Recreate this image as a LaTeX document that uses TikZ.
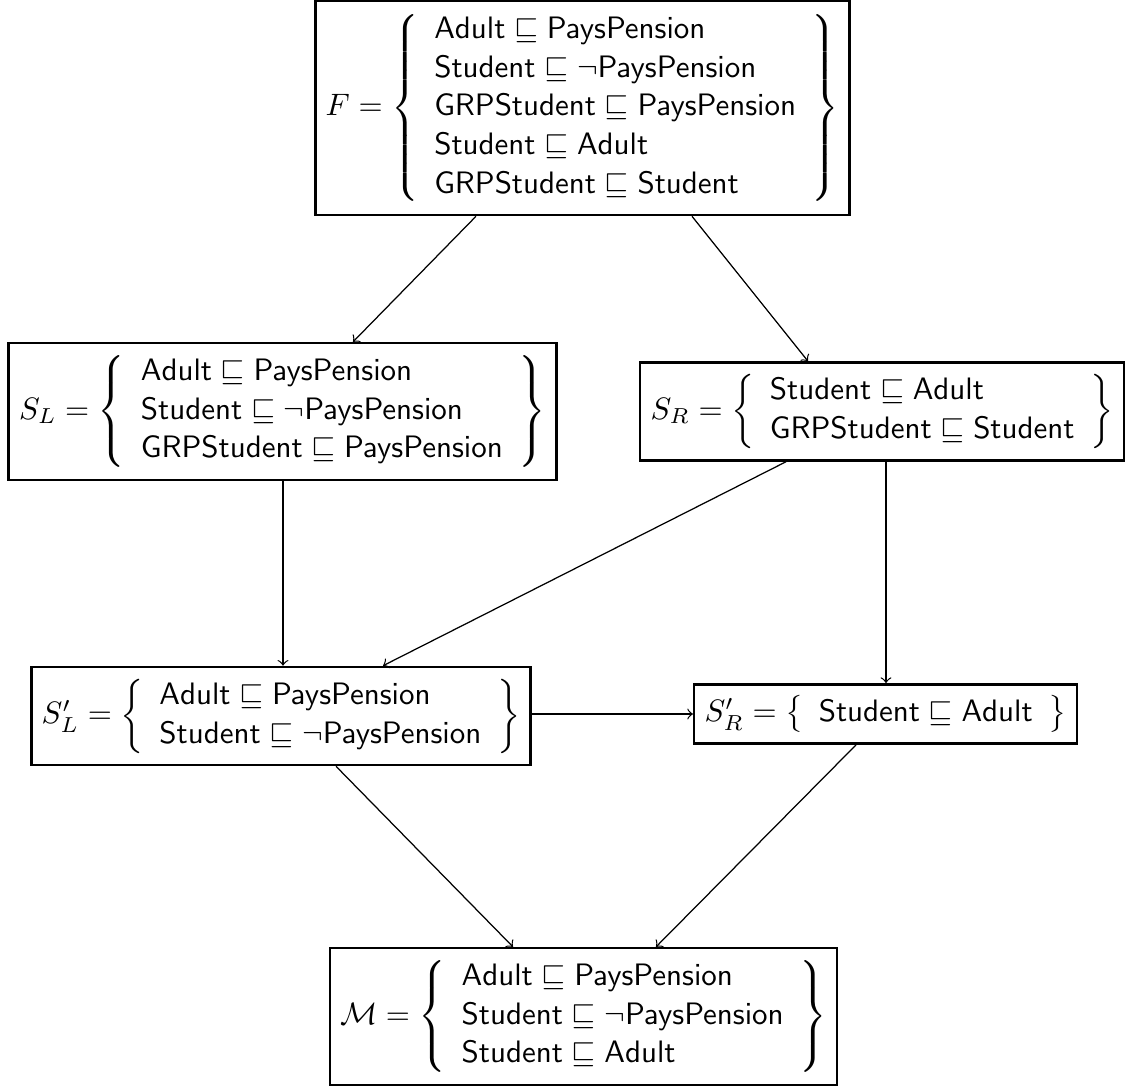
\documentclass[tikz,border=0pt]{standalone}
\usepackage{amssymb}
\renewcommand{\arraystretch}{1.04}
\begin{document}
\begin{tikzpicture}[x=0.32258pt,y=-0.32258pt,
  setbox/.style={draw,line width=0.8pt,fill=white},
  link/.style={->,line width=0.4pt}]
\useasboundingbox (0,0) rectangle (1129,1088);

\node[setbox] (F) at (582.5,108) {$F = \left\{\begin{array}{l}
  \mathsf{Adult}\sqsubseteq\mathsf{PaysPension}\\
  \mathsf{Student}\sqsubseteq\neg\mathsf{PaysPension}\\
  \mathsf{GRPStudent}\sqsubseteq\mathsf{PaysPension}\\
  \mathsf{Student}\sqsubseteq\mathsf{Adult}\\
  \mathsf{GRPStudent}\sqsubseteq\mathsf{Student}
  \end{array}\right\}$};

\node[setbox] (SL) at (282.5,411.5) {$S_L = \left\{\begin{array}{l}
  \mathsf{Adult}\sqsubseteq\mathsf{PaysPension}\\
  \mathsf{Student}\sqsubseteq\neg\mathsf{PaysPension}\\
  \mathsf{GRPStudent}\sqsubseteq\mathsf{PaysPension}
  \end{array}\right\}$};

\node[setbox] (SR) at (882,411.5) {$S_R = \left\{\begin{array}{l}
  \mathsf{Student}\sqsubseteq\mathsf{Adult}\\
  \mathsf{GRPStudent}\sqsubseteq\mathsf{Student}
  \end{array}\right\}$};

\node[setbox] (SLp) at (281,716) {$S'_L = \left\{\begin{array}{l}
  \mathsf{Adult}\sqsubseteq\mathsf{PaysPension}\\
  \mathsf{Student}\sqsubseteq\neg\mathsf{PaysPension}
  \end{array}\right\}$};

\node[setbox] (SRp) at (885.5,714) {$S'_R = \left\{\begin{array}{l}
  \mathsf{Student}\sqsubseteq\mathsf{Adult}
  \end{array}\right\}$};

\node[setbox] (M) at (583.5,1016.5) {$\mathcal{M} = \left\{\begin{array}{l}
  \mathsf{Adult}\sqsubseteq\mathsf{PaysPension}\\
  \mathsf{Student}\sqsubseteq\neg\mathsf{PaysPension}\\
  \mathsf{Student}\sqsubseteq\mathsf{Adult}
  \end{array}\right\}$};

% derivation arrows
\draw[link] (476,0 |- F.south) -- (353,0 |- SL.north);
\draw[link] (692,0 |- F.south) -- (808,0 |- SR.north);
\draw[link] (283,0 |- SL.south) -- (283,0 |- SLp.north);
\draw[link] (786,0 |- SR.south) -- (383,0 |- SLp.north);
\draw[link] (886,0 |- SR.south) -- (886,0 |- SRp.north);
\draw[link] (SLp.east |- SRp.west) -- (SRp.west);
\draw[link] (336,0 |- SLp.south) -- (513,0 |- M.north);
\draw[link] (856,0 |- SRp.south) -- (656,0 |- M.north);
\end{tikzpicture}
\end{document}
